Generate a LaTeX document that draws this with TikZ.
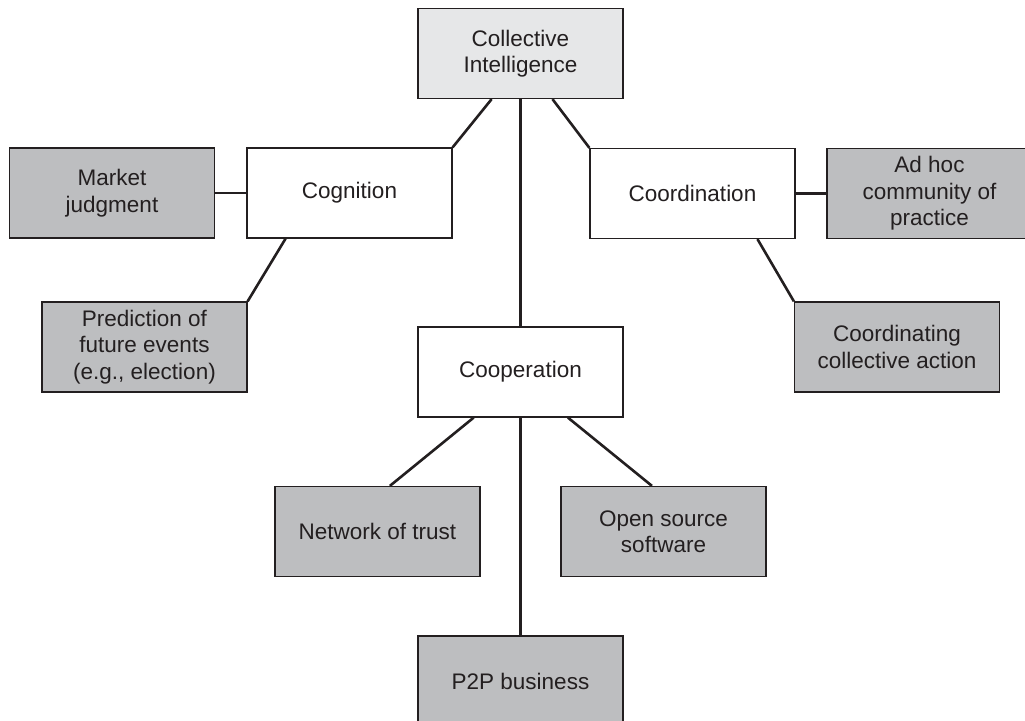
\documentclass[tikz,border=0pt]{standalone}
\usepackage{fontspec}
\setmainfont{Liberation Sans}
\usetikzlibrary{calc}
\definecolor{ink}{RGB}{35,31,32}
\definecolor{boxgray}{RGB}{189,190,192}
\definecolor{topgray}{RGB}{230,231,232}
\tikzset{
  box/.style={draw=ink,line width=1.2pt,text=ink,minimum width=205pt,minimum height=90pt,
    align=center,inner sep=2pt,font=\fontsize{22.5}{26.5}\selectfont},
  mainbox/.style={box,fill=white},
  leafbox/.style={box,fill=boxgray},
  rootbox/.style={box,fill=topgray},
  link/.style={draw=ink,line width=2.6pt}
}

\begin{document}
\begin{tikzpicture}[x=1pt,y=-1pt]
  \useasboundingbox (0,0) rectangle (1025,720);
  % boxes
  \node[rootbox] (ci) at (520.5,53.5) {Collective\\Intelligence};
  \node[mainbox] (cog) at (349.5,193) {Cognition};
  \node[leafbox] (market) at (112,193) {Market\\judgment};
  \node[leafbox] (predict) at (144.5,347) {Prediction of\\future events\\(e.g., election)};
  \node[mainbox] (coord) at (692.5,193.5) {Coordination};
  \node[leafbox] (adhoc) at (929.5,193.5) {Ad hoc\\community of\\practice};
  \node[leafbox] (action) at (897,347) {Coordinating\\collective action};
  \node[mainbox] (coop) at (520.5,372) {Cooperation};
  \node[leafbox] (trust) at (377.5,531.5) {Network of trust};
  \node[leafbox] (oss) at (663.5,531.5) {Open source\\software};
  \node[leafbox] (p2p) at (520.5,681) {P2P business};
  % connectors
  \draw[link] ($(ci.south west)!.36!(ci.south east)$) -- (cog.north east);
  \draw[link] ($(ci.south west)!.655!(ci.south east)$) -- (coord.north west);
  \draw[link] (ci.south) -- (coop.north);
  \draw[link] (market.east) -- (cog.west);
  \draw[link] ($(cog.south west)!.19!(cog.south east)$) -- (predict.north east);
  \draw[link] (coord.east) -- (adhoc.west);
  \draw[link] ($(coord.south west)!.815!(coord.south east)$) -- (action.north west);
  \draw[link] ($(coop.south west)!.273!(coop.south east)$) -- ($(trust.north west)!.56!(trust.north east)$);
  \draw[link] ($(coop.south west)!.73!(coop.south east)$) -- ($(oss.north west)!.444!(oss.north east)$);
  \draw[link] (coop.south) -- (p2p.north);
\end{tikzpicture}
\end{document}
